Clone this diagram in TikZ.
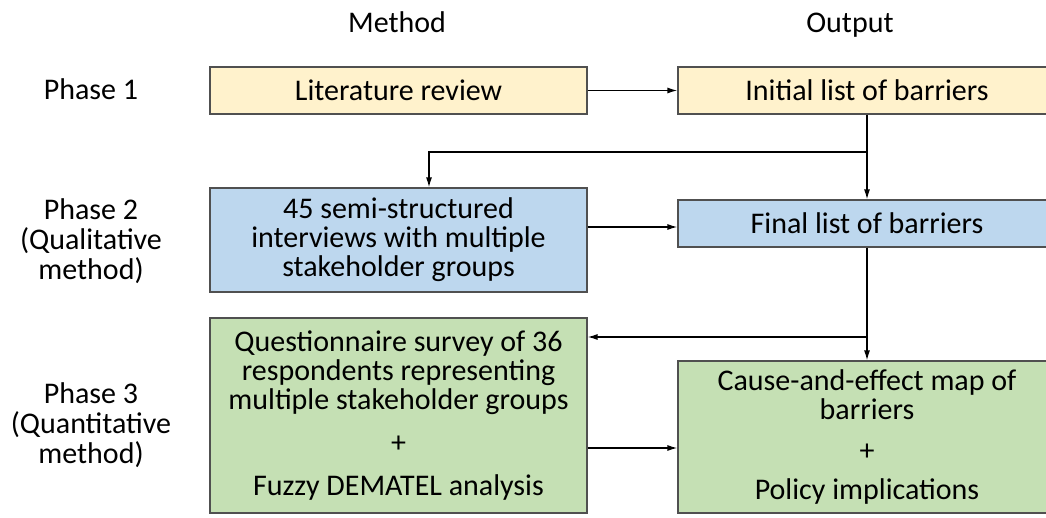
\documentclass[tikz,border=0pt]{standalone}
\usepackage{fontspec}
\setmainfont{Carlito}
\usetikzlibrary{arrows.meta}
\definecolor{litfill}{HTML}{FFF2CC}
\definecolor{qualfill}{HTML}{BDD7EE}
\definecolor{quanfill}{HTML}{C5E0B4}
\definecolor{boxline}{HTML}{505050}
\tikzstyle{box}=[draw=boxline, line width=1.2pt, rectangle, align=center,
inner sep=0pt, font=\fontsize{30}{29}\selectfont]
\tikzstyle{lit}=[box, fill=litfill, minimum height=47pt]
\tikzstyle{qual}=[box, fill=qualfill]
\tikzstyle{quan}=[box, fill=quanfill]
\tikzstyle{lbl}=[align=center, font=\fontsize{30}{30}\selectfont]
\tikzstyle{link}=[->, line width=1.3pt]

\begin{document}
\begin{tikzpicture}[x=1pt,y=-1pt,>={Latex[length=10pt,width=6pt]}]
      \clip (0,0) rectangle (1046,518);
      % column and row headers
      \node [lbl, anchor=base] (meth) at (397,33) {Method};
      \node [lbl, anchor=base] (outp) at (850,33) {Output};
      \node [lbl] (ph1) at (91,89) {Phase 1};
      \node [lbl] (ph2) at (91,241) {Phase 2\\(Qualitative\\method)};
      \node [lbl] (ph3) at (91,425) {Phase 3\\(Quantitative\\method)};
      % boxes
      \node [lit, minimum width=377pt] (rev) at (398.5,90.5) {Literature review};
      \node [lit, minimum width=378pt] (init) at (867,90.5) {Initial list of barriers};
      \node [qual, minimum width=377pt, minimum height=104pt] (semi) at (398.5,240)
            {45 semi-structured\\interviews with multiple\\stakeholder groups};
      \node [qual, minimum width=378pt, minimum height=47pt] (final) at (867,223.5)
            {Final list of barriers};
      \node [quan, minimum width=377pt, minimum height=195pt] (quest) at (398.5,415.5)
            {Questionnaire survey of 36\\respondents representing\\multiple stakeholder groups\\[14pt]+\\[14pt]Fuzzy DEMATEL analysis};
      \node [quan, minimum width=378pt, minimum height=152pt] (cause) at (867,437)
            {Cause-and-effect map of\\barriers\\[12pt]+\\[10pt]Policy implications};
      % connectors
      \node [coordinate] (split1) at (867,152) {};
      \node [coordinate] (back1) at (429,152) {};
      \node [coordinate] (split2) at (867,337) {};
      \coordinate (fin) at ([yshift=-3.5pt]final.west);
      \coordinate (cin) at ([yshift=-11pt]cause.west);
      \draw [link] (rev) -- (init);
      \draw [link] (init) -- (final);
      \draw [link] (split1) -- (back1) -- (back1 |- semi.north);
      \draw [link] (semi.east |- fin) -- (fin);
      \draw [link] (final) -- (cause);
      \draw [link] (split2) -- (quest.east |- split2);
      \draw [link] (quest.east |- cin) -- (cin);
  \end{tikzpicture}
\end{document}
